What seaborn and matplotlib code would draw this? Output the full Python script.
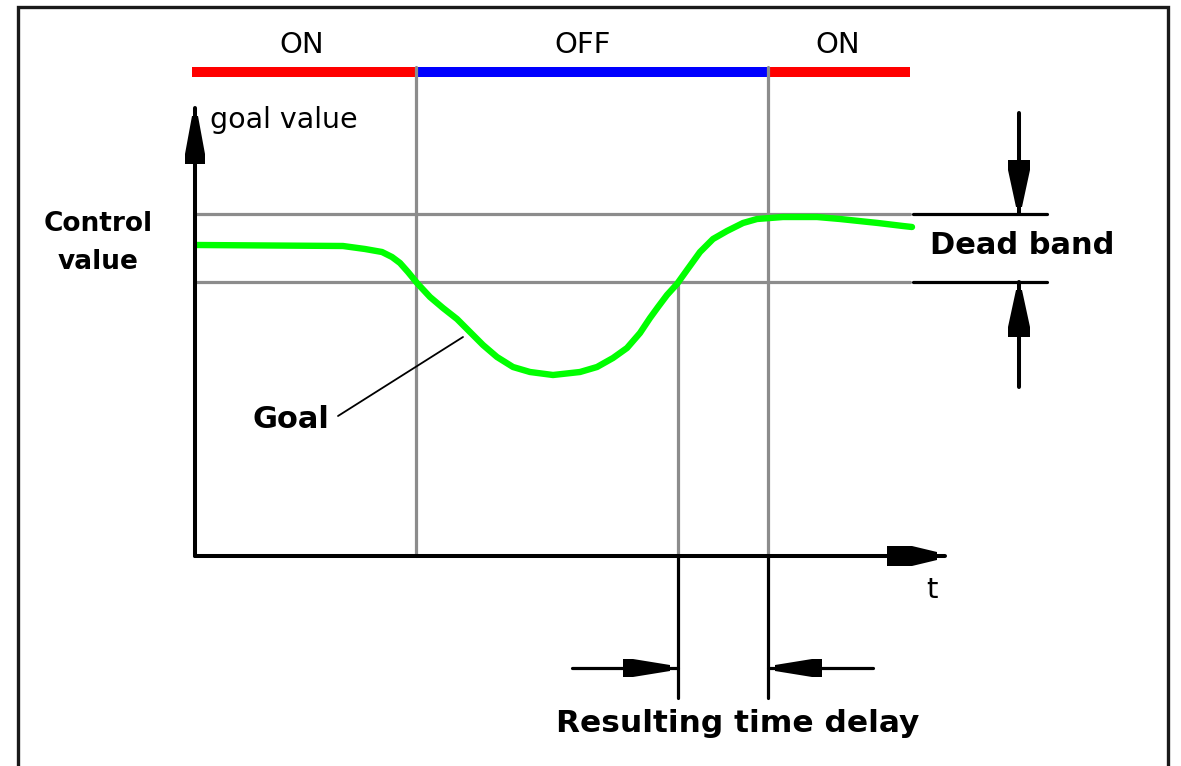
import numpy as np
import pandas as pd
import matplotlib
matplotlib.use("Agg")
import matplotlib.pyplot as plt
import seaborn as sns

# Datos del esquema (t = tiempo desde el origen, v = valor sobre el eje t)
goal_t = [2, 148, 170, 187, 197, 205, 213, 222, 235, 248, 262, 275, 288, 302, 318,
          335, 358, 385, 402, 418, 432, 445, 455, 463, 472, 482, 492, 505, 518, 532,
          548, 562, 588, 622, 645, 683, 708, 717]
goal_v = [311, 310, 307, 304, 299, 293, 284, 273, 259, 248, 237, 224, 211, 199, 189,
          184, 181, 184, 189, 198, 208, 223, 238, 249, 261, 272, 286, 304, 317, 325,
          333, 337, 339, 339, 337, 333, 330, 329]

band_upper = 342
band_lower = 274
switch_t = [-3, 221, 573, 715]
states = ["ON", "OFF", "ON"]
state_label_t = [107, 388, 643]
crossing_t = 483

colors = {"ON": "#ff0000", "OFF": "#0000ff"}
gray = "#8c8c8c"


def arrow_head(ax, tip, direction, length=47, half_base=10, half_tip=3, collar=10):
    """
    Punta de flecha de bloque: parte ancha en la base que se estrecha hacia la punta
    """
    d = np.array(direction, dtype=float)
    d = d / np.linalg.norm(d)
    n = np.array([-d[1], d[0]])
    tip = np.array(tip, dtype=float)
    base = tip - d * length
    mid = base + d * collar
    pts = [base + n * half_base, mid + n * half_base, tip + n * half_tip,
           tip - n * half_tip, mid - n * half_base, base - n * half_base]
    pts = np.array(pts)
    ax.fill(pts[:, 0], pts[:, 1], color="black", lw=0)


sns.set_theme(style="white")
plt.rcParams["font.family"] = ["DejaVu Sans"]
plt.rcParams["text.color"] = "black"

fig = plt.figure(figsize=(11.81, 7.66), dpi=100)
ax = fig.add_axes([0, 0, 1, 1])
ax.set_xlim(-195, 986)
ax.set_ylim(-210, 556)
ax.axis("off")

# Marco exterior
ax.plot([-177, -177, 973, 973], [-230, 549, 549, -230], color="#1a1a1a", lw=2.4,
        solid_joinstyle="miter")

# Barra de estados ON / OFF
bar_v = 484
for i, st in enumerate(states):
    ax.plot([switch_t[i], switch_t[i + 1]], [bar_v, bar_v], color=colors[st], lw=7.2,
            solid_capstyle="butt")
    ax.text(state_label_t[i], 511, st, ha="center", va="center", fontsize=21, color="black")

# Lineas grises de la banda muerta y de conmutacion
for lvl in [band_upper, band_lower]:
    ax.plot([0, 715], [lvl, lvl], color=gray, lw=2.3)
for ts in switch_t[1:3]:
    ax.plot([ts, ts], [0, 489], color=gray, lw=2.3)
ax.plot([crossing_t, crossing_t], [0, band_lower], color=gray, lw=2.3)

# Curva del objetivo
df = pd.DataFrame({"t": goal_t, "v": goal_v})
sns.lineplot(data=df, x="t", y="v", ax=ax, color="#00ff00", lw=4.6,
             estimator=None, sort=False)

# Ejes
ax.plot([0, 0], [0, 448], color="black", lw=2.9)
ax.plot([0, 750], [0, 0], color="black", lw=2.9)
arrow_head(ax, (0, 440), (0, 1), length=48, half_base=10)
arrow_head(ax, (742, 0), (1, 0), length=50, half_base=10, half_tip=4, collar=25)
ax.text(15, 436, "goal value", ha="left", va="center", fontsize=20.5, color="black")
ax.text(737, -34, "t", ha="center", va="center", fontsize=21, color="black")
ax.text(-97, 313, "Control\nvalue", ha="center", va="center", fontsize=19,
        fontweight="bold", linespacing=1.6, color="black")

# Etiqueta del objetivo
ax.plot([143, 268], [140, 219], color="black", lw=1.3)
ax.text(96, 136, "Goal", ha="center", va="center", fontsize=22, fontweight="bold",
        color="black")

# Banda muerta
for lvl in [band_upper, band_lower]:
    ax.plot([718, 852], [lvl, lvl], color="black", lw=2.3)
ax.plot([824, 824], [443, band_upper], color="black", lw=2.9)
ax.plot([824, 824], [169, band_lower], color="black", lw=2.9)
arrow_head(ax, (824, 349), (0, -1), length=47, half_base=11)
arrow_head(ax, (824, 266), (0, 1), length=47, half_base=11)
ax.text(827, 311, "Dead band", ha="center", va="center", fontsize=22, fontweight="bold",
        color="black")

# Retardo resultante
for ts in [crossing_t, switch_t[2]]:
    ax.plot([ts, ts], [0, -142], color="black", lw=2.3)
ax.plot([377, crossing_t], [-112, -112], color="black", lw=2.3)
ax.plot([switch_t[2], 678], [-112, -112], color="black", lw=2.3)
arrow_head(ax, (475, -112), (1, 0), length=47, half_base=9, collar=10)
arrow_head(ax, (580, -112), (-1, 0), length=47, half_base=9, collar=10)
ax.text(543, -167, "Resulting time delay", ha="center", va="center", fontsize=22.5,
        fontweight="bold", color="black")

fig.savefig("out.png", dpi=100)
